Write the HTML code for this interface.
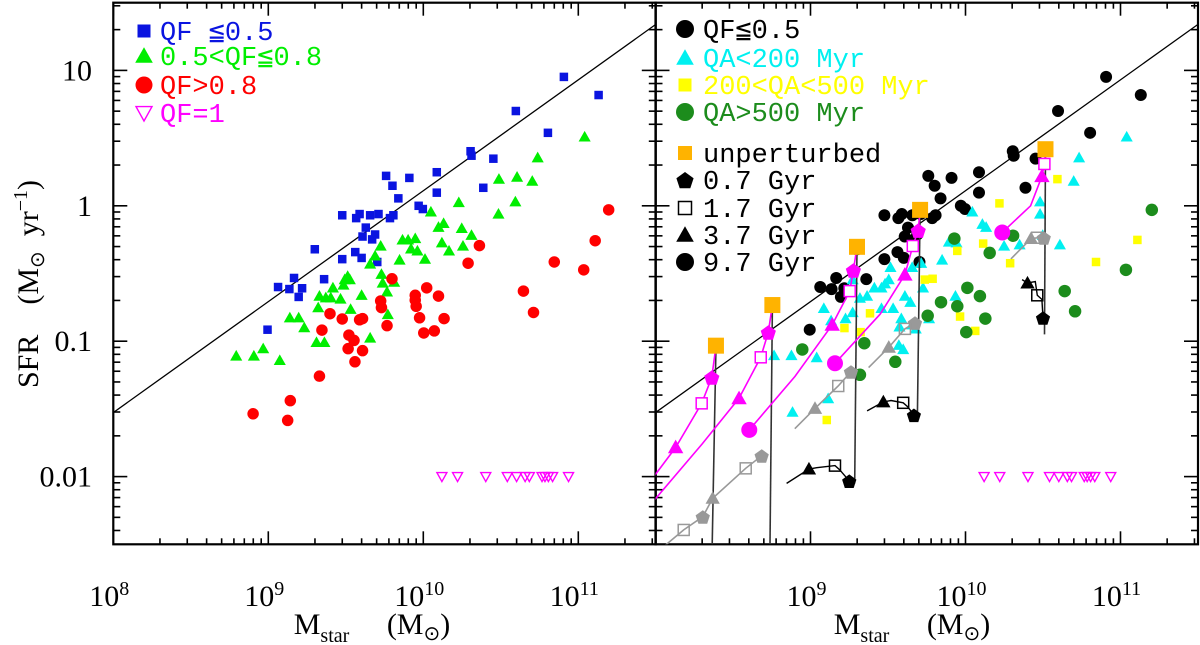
<!DOCTYPE html>
<html><head><meta charset="utf-8"><style>
html,body{margin:0;padding:0;background:#fff;}
svg{display:block;}
.tk{font-family:"Liberation Serif",serif;font-size:30px;fill:#000;white-space:pre;}
.lg{font-family:"Liberation Mono",monospace;font-size:27px;white-space:pre;}
</style></head><body>
<svg id="chart" width="1200" height="645" viewBox="0 0 1200 645" xmlns="http://www.w3.org/2000/svg" xml:space="preserve">
<g id="gl"></g>
<g id="gr"></g>
<g id="gt"></g>
</svg>
<script>
// ---- data (log10 Mstar [Msun], log10 SFR [Msun/yr]) ----
const blueLogM=[8.995,9.063,9.136,9.166,9.196,9.218,9.360,9.300,9.477,9.477,9.561,9.589,9.567,9.629,9.608,9.602,9.657,9.670,9.689,9.711,9.703,9.760,9.801,9.785,9.807,9.839,9.910,9.970,9.997,10.087,10.087,10.305,10.311,10.387,10.452,10.597,10.804,10.907,11.131];
const blueLogS=[-0.915,-0.600,-0.615,-0.533,-0.673,-0.609,-0.542,-0.321,-0.070,-0.394,-0.342,-0.061,-0.091,-0.161,-0.227,-0.385,-0.070,-0.248,-0.212,-0.061,-0.415,0.221,0.148,-0.091,-0.070,0.055,0.206,0.000,-0.024,0.248,0.097,0.403,0.370,0.133,0.348,0.700,0.539,0.952,0.818];
const greenLogM=[8.793,8.907,8.967,9.074,9.139,9.196,9.232,9.311,9.322,9.330,9.362,9.371,9.403,9.417,9.466,9.485,9.493,9.512,9.526,9.531,9.602,9.657,9.657,9.689,9.725,9.730,9.738,9.766,9.771,9.812,9.847,9.866,9.902,9.948,9.921,9.962,10.011,10.049,10.098,10.131,10.120,10.166,10.229,10.248,10.256,10.311,10.485,10.488,10.594,10.605,10.703,10.738,11.041];
const greenLogS=[-1.109,-1.109,-1.055,-1.142,-0.827,-0.827,-0.900,-1.009,-0.752,-0.667,-1.009,-0.679,-0.679,-0.606,-0.688,-0.585,-0.545,-0.521,-0.545,-0.764,-0.661,-0.976,-0.430,-0.370,-0.297,-0.506,-0.570,-0.636,-0.803,-0.564,-0.400,-0.252,-0.252,-0.242,-0.318,-0.333,-0.394,-0.045,-0.158,-0.130,-0.273,-0.333,0.024,-0.167,-0.297,-0.218,-0.061,0.197,0.030,0.212,0.182,0.355,0.509];
const redLogM=[8.902,9.142,9.125,9.330,9.346,9.398,9.477,9.520,9.515,9.553,9.559,9.589,9.608,9.608,9.725,9.730,9.766,9.798,9.948,9.948,9.954,9.976,10.003,10.022,10.071,10.098,10.134,10.289,10.362,10.646,10.711,10.845,11.035,11.109,11.196];
const redLogS=[-1.536,-1.439,-1.585,-1.258,-0.918,-0.797,-0.836,-0.955,-1.055,-0.994,-1.152,-0.842,-0.833,-1.070,-0.703,-0.752,-0.885,-0.539,-0.661,-0.697,-0.742,-0.827,-0.939,-0.606,-0.924,-0.667,-0.833,-0.424,-0.294,-0.630,-0.788,-0.415,-0.473,-0.258,-0.030];
const qf1LogM=[10.12,10.221,10.403,10.542,10.602,10.657,10.684,10.766,10.785,10.807,10.834,10.937];
const qf1LogS=[-2,-2,-2,-2,-2,-2,-2,-2,-2,-2,-2,-2];
const cyanLogM=[11.040,10.733,10.698,10.481,10.481,10.044,10.109,10.133,10.349,10.249,10.609,10.498,9.942,9.893,9.849,9.935,9.714,9.656,9.609,9.726,9.644,9.505,9.481,9.458,9.533,9.586,9.656,9.574,9.458,9.412,9.365,9.319,9.272,9.226,9.133,9.086,9.516,9.272,9.570,9.598,9.679,9.765,8.765,8.877,9.040,8.884,9.114];
const cyanLogS=[0.509,0.355,0.182,0.030,-0.061,-0.045,-0.136,-0.158,-0.288,-0.297,-0.288,-0.218,-0.273,-0.267,-0.400,-0.667,-0.424,-0.455,-0.667,-0.606,-0.712,-0.545,-0.576,-0.606,-0.758,-0.833,-0.879,-0.894,-0.758,-0.606,-0.667,-0.682,-0.788,-0.833,-0.848,-0.758,-0.455,-0.545,-1.030,-1.061,-0.909,-0.833,-1.106,-1.106,-1.121,-1.524,-1.424];
const yellowLogM=[10.593,10.219,10.114,9.947,10.288,10.842,11.109,9.737,9.788,9.384,9.219,9.323,9.965,10.063,9.105];
const yellowLogS=[0.197,0.018,-0.279,-0.333,-0.424,-0.415,-0.252,-0.545,-0.539,-0.794,-0.903,-0.933,-0.818,-0.924,-1.582];
const dgreenLogM=[11.202,11.035,10.640,10.707,10.307,10.156,9.928,10.012,10.093,9.842,9.947,10.128,10.005,9.756,9.347,9.547,9.319,8.947];
const dgreenLogS=[-0.030,-0.473,-0.630,-0.779,-0.221,-0.348,-0.242,-0.606,-0.667,-0.712,-0.742,-0.833,-0.933,-0.812,-1.015,-1.152,-1.248,-1.061];
// model tracks
const unpertLogM=[8.390,8.754,9.300,9.707,10.516];
const unpertLogS=[-1.033,-0.733,-0.303,-0.030,0.418];
const vertEndLogM=[8.366,8.739,9.285,9.690,10.510];
const vertEndLogS=[-2.5,-2.5,-2.05,-1.55,-0.95];
const magPentLogM=[8.363,8.728,9.277,9.695];
const magPentLogS=[-1.267,-0.934,-0.476,-0.182];
const magSqLogM=[8.298,8.679,9.253,9.660,10.509];
const magSqLogS=[-1.459,-1.119,-0.630,-0.297,0.309];
const magTriLogM=[8.130,8.539,9.140,9.609,10.493];
const magTriLogS=[-1.784,-1.422,-0.879,-0.509,0.218];
const magCircLogM=[8.605,9.158,10.237];
const magCircLogS=[-1.655,-1.163,-0.197];
const magEndLogM=[7.997,7.997,8.605,9.158,10.237];
const magEndLogS=[-1.988,-2.168,-1.655,-1.163,-0.197];
const grayPentLogM=[8.685,8.305,9.261,9.674,10.505];
const grayPentLogS=[-1.846,-2.296,-1.225,-0.864,-0.236];
const graySqLogM=[8.582,8.182,9.179,9.609,10.463];
const graySqLogS=[-1.939,-2.394,-1.331,-0.909,-0.236];
const grayTriLogM=[8.369,9.029,9.505,10.423];
const grayTriLogS=[-2.160,-1.496,-1.045,-0.242];
const blkPentLogM=[9.250,9.667,10.500];
const blkPentLogS=[-2.032,-1.545,-0.827];
const blkSqLogM=[9.158,9.598,10.463];
const blkSqLogS=[-1.919,-1.455,-0.661];
const blkTriLogM=[8.990,9.470,10.400];
const blkTriLogS=[-1.944,-1.448,-0.570];
const blkEndLogM=[8.846,9.365,10.365];
const blkEndLogS=[-2.050,-1.515,-0.545];
const fitLogM=[8,11.5];
const fitLogS=[-1.527,1.340];
const xTickLeft=[8,9,10,11];
const xTickRight=[9,10,11];
const yTickVals=[1,0,-1,-2];
const yTickText=["10","1","0.1","0.01"];

// ---- scales ----
const X0L=113.3,X0R=655.5,DX=155,YT=2.7,YB=544.3,DY=135.4;
function xs(base,lm){return base+(lm-8)*DX;}
function ys(ls){return YT+(1.5-ls)*DY;}
const NS="http://www.w3.org/2000/svg";
function el(tag,attrs,parent){const e=document.createElementNS(NS,tag);for(const k in attrs)e.setAttribute(k,attrs[k]);parent.appendChild(e);return e;}

function mk(parent,type,cx,cy,s,fill,stroke,name){
  let e;
  if(type==='sq'){e=el('rect',{x:cx-s/2,y:cy-s/2,width:s,height:s,fill:fill,stroke:stroke||'none','stroke-width':1.5},parent);}
  else if(type==='circ'){e=el('circle',{cx:cx,cy:cy,r:s/2,fill:fill},parent);}
  else if(type==='tri'){e=el('polygon',{points:`${cx},${cy-s*0.55} ${cx-s*0.55},${cy+s*0.42} ${cx+s*0.55},${cy+s*0.42}`,fill:fill,stroke:stroke||'none','stroke-width':1.2},parent);}
  else if(type==='dtri'){e=el('polygon',{points:`${cx-s*0.5},${cy-s*0.4} ${cx+s*0.5},${cy-s*0.4} ${cx},${cy+s*0.5}`,fill:'none',stroke:fill,'stroke-width':1.4},parent);}
  else if(type==='pent'){let p=[];for(let i=0;i<5;i++){const a=-Math.PI/2+i*2*Math.PI/5;p.push((cx+s/2*Math.cos(a)).toFixed(1)+','+(cy+s/2*Math.sin(a)+1).toFixed(1));}e=el('polygon',{points:p.join(' '),fill:fill},parent);}
  
  
  return e;
}

function frame(g,base,xt,clipId){
  const x1=base,x2=base+3.5*DX;
  const cp=el('clipPath',{id:clipId},g);el('rect',{x:x1,y:YT,width:x2-x1,height:YB-YT},cp);
  for(let d=8;d<=11;d++){for(let m=1;m<=9;m++){const lm=d+Math.log10(m);if(lm>11.5)continue;const x=xs(base,lm);const L=m===1?13:6;
    const t1=el('line',{x1:x,y1:YB,x2:x,y2:YB-L,stroke:'#000','stroke-width':1.6},g);
    const t2=el('line',{x1:x,y1:YT,x2:x,y2:YT+L,stroke:'#000','stroke-width':1.6},g);}}
  for(let d=-3;d<=1;d++){for(let m=1;m<=9;m++){const ls=d+Math.log10(m);if(ls<-2.5||ls>1.5)continue;const y=ys(ls);const L=m===1?14:7;
    const t1=el('line',{x1:x1,y1:y,x2:x1+L,y2:y,stroke:'#000','stroke-width':1.6},g);
    const t2=el('line',{x1:x2,y1:y,x2:x2-L,y2:y,stroke:'#000','stroke-width':1.6},g);}}
  const r=el('rect',{x:x1,y:YT,width:x2-x1,height:YB-YT,fill:'none',stroke:'#000','stroke-width':2.2},g);
  
  xt.forEach(v=>{const t=el('text',{x:xs(base,v)-4,y:606,'text-anchor':'middle',class:'tk'},g);
    
    t.textContent='10';const s=el('tspan',{dy:-11,'font-size':20},t);s.textContent=String(v);});
  const f=el('line',{x1:xs(base,fitLogM[0]),y1:ys(fitLogS[0]),x2:xs(base,fitLogM[1]),y2:ys(fitLogS[1]),stroke:'#000','stroke-width':1.3,'clip-path':`url(#${clipId})`},g);
  
}

const gl=document.getElementById('gl'),gr=document.getElementById('gr'),gt=document.getElementById('gt');
frame(gl,X0L,xTickLeft,'cl');
frame(gr,X0R,xTickRight,'cr');
yTickVals.forEach((v,i)=>{const t=el('text',{x:92,y:ys(v)+10,'text-anchor':'end',class:'tk'},gt);
  t.textContent=yTickText[i];});

// left points
const pl=el('g',{'clip-path':'url(#cl)'},gl);
blueLogM.forEach((m,i)=>mk(pl,'sq',xs(X0L,m),ys(blueLogS[i]),8.5,'#0a14e0',null,'qf-low-point'));
greenLogM.forEach((m,i)=>mk(pl,'tri',xs(X0L,m),ys(greenLogS[i]),11,'#00ee00',null,'qf-mid-point'));
redLogM.forEach((m,i)=>mk(pl,'circ',xs(X0L,m),ys(redLogS[i]),11.5,'#ff0000',null,'qf-high-point'));
qf1LogM.forEach((m,i)=>mk(pl,'dtri',xs(X0L,m),ys(qf1LogS[i]),10,'#ff00ff',null,'qf-one-point'));

// right panel
const pr=el('g',{'clip-path':'url(#cr)'},gr);
const XR=m=>xs(X0R,m);
blueLogM.forEach((m,i)=>mk(pr,'circ',XR(m),ys(blueLogS[i]),12,'#000',null,'qf-low-point-black'));
cyanLogM.forEach((m,i)=>mk(pr,'tri',XR(m),ys(cyanLogS[i]),11,'#00f0f0',null,'qa-young-point'));
yellowLogM.forEach((m,i)=>mk(pr,'sq',XR(m),ys(yellowLogS[i]),8.5,'#ffff00',null,'qa-mid-point'));
dgreenLogM.forEach((m,i)=>mk(pr,'circ',XR(m),ys(dgreenLogS[i]),12.5,'#1c8c1c',null,'qa-old-point'));
qf1LogM.forEach((m,i)=>mk(pr,'dtri',XR(m),ys(qf1LogS[i]),10,'#ff00ff',null,'qf-one-point'));
function poly(pts,color,w,name){const l=el('polyline',{points:pts.map(p=>XR(p[0]).toFixed(1)+','+ys(p[1]).toFixed(1)).join(' '),fill:'none',stroke:color,'stroke-width':w},pr);
  }
unpertLogM.forEach((m,i)=>poly([[m,unpertLogS[i]],[vertEndLogM[i],vertEndLogS[i]]],'#333',1.6,'track-vertical-line'));
poly([[unpertLogM[0],unpertLogS[0]],[magPentLogM[0],magPentLogS[0]],[magSqLogM[0],magSqLogS[0]],[magTriLogM[0],magTriLogS[0]],[magEndLogM[0],magEndLogS[0]]],'#ff00ff',1.6,'magenta-track');
poly([[unpertLogM[1],unpertLogS[1]],[magPentLogM[1],magPentLogS[1]],[magSqLogM[1],magSqLogS[1]],[magTriLogM[1],magTriLogS[1]],[8.3,-1.76],[magEndLogM[1],magEndLogS[1]]],'#ff00ff',1.6,'magenta-track');
poly([[unpertLogM[2],unpertLogS[2]],[magPentLogM[2],magPentLogS[2]],[magSqLogM[2],magSqLogS[2]],[magTriLogM[2],magTriLogS[2]],[8.9,-1.26],[magEndLogM[2],magEndLogS[2]]],'#ff00ff',1.6,'magenta-track');
poly([[unpertLogM[3],unpertLogS[3]],[magPentLogM[3],magPentLogS[3]],[magSqLogM[3],magSqLogS[3]],[magTriLogM[3],magTriLogS[3]],[9.45,-0.8],[magEndLogM[3],magEndLogS[3]]],'#ff00ff',1.6,'magenta-track');
poly([[unpertLogM[4],unpertLogS[4]],[magSqLogM[4],magSqLogS[4]],[magTriLogM[4],magTriLogS[4]],[10.42,0.0],[magEndLogM[4],magEndLogS[4]]],'#ff00ff',1.6,'magenta-track');
poly([[grayPentLogM[0],grayPentLogS[0]],[graySqLogM[0],graySqLogS[0]],[grayTriLogM[0],grayTriLogS[0]],[grayPentLogM[1],grayPentLogS[1]],[graySqLogM[1],graySqLogS[1]],[8.06,-2.51]],'#999',1.6,'gray-track');
for(let i=2;i<5;i++){poly([[grayPentLogM[i],grayPentLogS[i]],[graySqLogM[i],graySqLogS[i]],[grayTriLogM[i-1],grayTriLogS[i-1]],[grayTriLogM[i-1]-0.13,grayTriLogS[i-1]-0.15]],'#999',1.6,'gray-track');}
for(let i=0;i<3;i++){poly([[blkPentLogM[i],blkPentLogS[i]],[blkSqLogM[i]+0.03,blkSqLogS[i]-0.03],[blkSqLogM[i],blkSqLogS[i]],[blkTriLogM[i]+0.05,blkTriLogS[i]+0.01],[blkTriLogM[i],blkTriLogS[i]],[blkEndLogM[i],blkEndLogS[i]]],'#000',1.4,'black-track');}
grayPentLogM.forEach((m,i)=>mk(pr,'pent',XR(m),ys(grayPentLogS[i]),15,'#999',null,'gray-pentagon'));
graySqLogM.forEach((m,i)=>mk(pr,'sq',XR(m),ys(graySqLogS[i]),11,'none','#999','gray-open-square'));
grayTriLogM.forEach((m,i)=>mk(pr,'tri',XR(m),ys(grayTriLogS[i]),13,'#999',null,'gray-triangle'));
blkPentLogM.forEach((m,i)=>mk(pr,'pent',XR(m),ys(blkPentLogS[i]),15,'#000',null,'black-pentagon'));
blkSqLogM.forEach((m,i)=>mk(pr,'sq',XR(m),ys(blkSqLogS[i]),11,'none','#000','black-open-square'));
blkTriLogM.forEach((m,i)=>mk(pr,'tri',XR(m),ys(blkTriLogS[i]),13,'#000',null,'black-triangle'));
magPentLogM.forEach((m,i)=>mk(pr,'pent',XR(m),ys(magPentLogS[i]),16,'#ff00ff',null,'magenta-pentagon'));
magSqLogM.forEach((m,i)=>mk(pr,'sq',XR(m),ys(magSqLogS[i]),11,'#fff','#ff00ff','magenta-open-square'));
magTriLogM.forEach((m,i)=>mk(pr,'tri',XR(m),ys(magTriLogS[i]),14,'#ff00ff',null,'magenta-triangle'));
magCircLogM.forEach((m,i)=>mk(pr,'circ',XR(m),ys(magCircLogS[i]),16,'#ff00ff',null,'magenta-circle'));
unpertLogM.forEach((m,i)=>mk(pr,'sq',XR(m),ys(unpertLogS[i]),16,'#ffb300',null,'unperturbed-square'));

function leg(g,x,tx,y,type,s,col,stroke,text,tcol,name){mk(g,type,x,y,s,col,stroke,name+'-marker');
  const t=el('text',{x:tx,y:y+9,class:'lg',fill:tcol},g);t.textContent=text;}
leg(gl,144,160,31,'sq',13,'#0a14e0',null,'QF ≦0.5','#0a14e0','legend-qf-low');
leg(gl,144,160,56,'tri',16,'#00ee00',null,'0.5<QF≦0.8','#00ee00','legend-qf-mid');
leg(gl,144,160,85,'circ',17,'#ff0000',null,'QF>0.8','#ff0000','legend-qf-high');
leg(gl,144,160,113,'dtri',16,'#ff00ff',null,'QF=1','#ff00ff','legend-qf-one');
const lx=685,ltx=703;
leg(gr,lx,ltx,29,'circ',18,'#000',null,'QF≦0.5','#000','legend-qf-low-r');
leg(gr,lx,ltx,58,'tri',16,'#00f0f0',null,'QA<200 Myr','#00f0f0','legend-qa-young');
leg(gr,lx,ltx,85,'sq',13,'#ffff00',null,'200<QA<500 Myr','#ffff00','legend-qa-mid');
leg(gr,lx,ltx,112,'circ',18,'#1c8c1c',null,'QA>500 Myr','#1c8c1c','legend-qa-old');
leg(gr,lx,ltx,153,'sq',14,'#ffb300',null,'unperturbed','#000','legend-unperturbed');
leg(gr,lx,ltx,180,'pent',18,'#000',null,'0.7 Gyr','#000','legend-0-7-gyr');
leg(gr,lx,ltx,208,'sq',13,'none','#000','1.7 Gyr','#000','legend-1-7-gyr');
leg(gr,lx,ltx,235,'tri',16,'#000',null,'3.7 Gyr','#000','legend-3-7-gyr');
leg(gr,lx,ltx,262,'circ',18,'#000',null,'9.7 Gyr','#000','legend-9-7-gyr');

function xtitle(cx,name){const t=el('text',{x:cx,y:634,'text-anchor':'middle',class:'tk'},gt);
  t.innerHTML='M<tspan dy="8" font-size="20">star</tspan><tspan dy="-8">     (M</tspan><tspan font-size="20" dy="6">⊙</tspan><tspan dy="-6">)</tspan>';}
xtitle(372,'x-axis-title-left');
xtitle(912,'x-axis-title-right');
const yt=el('text',{x:0,y:0,'text-anchor':'middle',class:'tk',transform:'translate(38,284) rotate(-90)'},gt);

yt.innerHTML='SFR    (M<tspan font-size="20" dy="6">⊙</tspan><tspan dy="-6">  yr</tspan><tspan font-size="20" dy="-11">−1</tspan><tspan dy="11">)</tspan>';
</script>
</body></html>
